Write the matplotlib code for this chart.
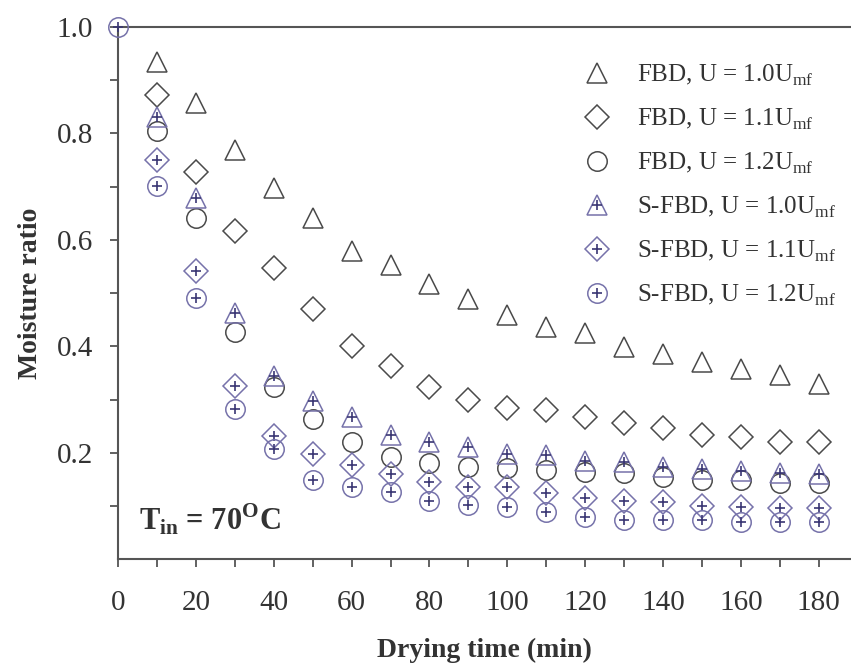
import matplotlib
matplotlib.use("Agg")
import matplotlib.pyplot as plt

plt.rcParams['font.family'] = ['Liberation Serif', 'DejaVu Serif']
plt.rcParams['mathtext.fontset'] = 'custom'
plt.rcParams['mathtext.rm'] = 'Liberation Serif'
plt.rcParams['mathtext.bf'] = 'Liberation Serif:bold'

# drying time (min)
time = [10, 20, 30, 40, 50, 60, 70, 80, 90, 100, 110, 120, 130, 140, 150, 160, 170, 180]
time0 = [0] + time

# moisture ratio
fbd_10 = [0.934, 0.857, 0.769, 0.698, 0.641, 0.579, 0.553, 0.517, 0.489, 0.459,
          0.437, 0.425, 0.399, 0.386, 0.371, 0.358, 0.346, 0.330]
fbd_11 = [0.872, 0.728, 0.617, 0.547, 0.470, 0.401, 0.363, 0.324, 0.300, 0.285,
          0.281, 0.267, 0.256, 0.247, 0.234, 0.230, 0.221, 0.221]
fbd_12 = [0.805, 0.641, 0.427, 0.324, 0.264, 0.221, 0.192, 0.181, 0.174, 0.172,
          0.168, 0.164, 0.162, 0.155, 0.149, 0.149, 0.143, 0.143]
sfbd_10 = [0.831, 0.679, 0.463, 0.345, 0.298, 0.268, 0.234, 0.221, 0.211, 0.198,
           0.196, 0.185, 0.183, 0.174, 0.170, 0.166, 0.162, 0.161]
sfbd_11 = [0.750, 0.542, 0.326, 0.232, 0.198, 0.177, 0.161, 0.146, 0.136, 0.136,
           0.125, 0.115, 0.110, 0.108, 0.100, 0.099, 0.097, 0.097]
sfbd_12 = [1.0, 0.701, 0.491, 0.283, 0.208, 0.149, 0.136, 0.127, 0.110, 0.102, 0.099,
           0.089, 0.080, 0.074, 0.074, 0.074, 0.071, 0.071, 0.071]

labels = [r"FBD, U = 1.0U$_{\mathrm{mf}}$", r"FBD, U = 1.1U$_{\mathrm{mf}}$",
          r"FBD, U = 1.2U$_{\mathrm{mf}}$", r"S-FBD, U = 1.0U$_{\mathrm{mf}}$",
          r"S-FBD, U = 1.1U$_{\mathrm{mf}}$", r"S-FBD, U = 1.2U$_{\mathrm{mf}}$"]

gray = '#4a4a4a'
purple = '#7672aa'
dark_purple = '#3a3673'

fig = plt.figure(figsize=(8.51, 6.66), dpi=100)
ax = fig.add_axes([0.1387, 0.1600, 0.86, 0.7995])

handles = []
# plain FBD series
for y, m, ms in [(fbd_10, '^', 15), (fbd_11, 'D', 12), (fbd_12, 'o', 14)]:
    h, = ax.plot(time, y, ls='none', marker=m, ms=ms, mfc='none', mec=gray, mew=1.1)
    handles.append(h)

# S-FBD series: same shapes with a plus inside
for x, y, m, ms in [(time, sfbd_10, '^', 15), (time, sfbd_11, 'D', 12), (time0, sfbd_12, 'o', 14)]:
    h1, = ax.plot(x, y, ls='none', marker=m, ms=ms, mfc='none', mec=purple, mew=1.1,
                  clip_on=False, zorder=3)
    h2, = ax.plot(x, y, ls='none', marker='+', ms=7, mec=dark_purple, mew=1.2,
                  clip_on=False, zorder=3)
    handles.append((h1, h2))

ax.set_xlim(0, 188)
ax.set_ylim(0, 1.0)
ax.set_xticks(range(0, 181, 20))
ax.set_xticks(range(10, 181, 20), minor=True)
ax.set_yticks([0.2, 0.4, 0.6, 0.8, 1.0])
ax.set_yticks([0.1, 0.3, 0.5, 0.7, 0.9], minor=True)
ax.set_yticklabels(['0.2', '0.4', '0.6', '0.8', '1.0'])
ax.tick_params(axis='both', which='both', direction='out', length=6, width=1.3,
               color='#555555', labelsize=21, labelcolor='#333333')
ax.tick_params(axis='y', pad=12)
ax.tick_params(axis='x', pad=16)

for s in ['left', 'bottom', 'top']:
    ax.spines[s].set_linewidth(1.5)
    ax.spines[s].set_color('#555555')
ax.spines['right'].set_visible(False)

ax.set_xlabel('Drying time (min)', fontsize=20, fontweight='bold', color='#333333', labelpad=16)
ax.set_ylabel('Moisture ratio', fontsize=20, fontweight='bold', color='#333333', labelpad=10)

ax.text(0.028, 0.055, r"T$_{\mathbf{in}}$ = 70$^{\mathbf{O}}$C", transform=ax.transAxes,
        fontsize=22, fontweight='bold', color='#333333')

ax.legend(handles, labels, loc='upper right', bbox_to_anchor=(1.012, 0.975), frameon=False,
          fontsize=18, handlelength=1.2, handletextpad=1.0, labelspacing=0.75,
          labelcolor='#333333')

fig.savefig('out.png', dpi=100)
